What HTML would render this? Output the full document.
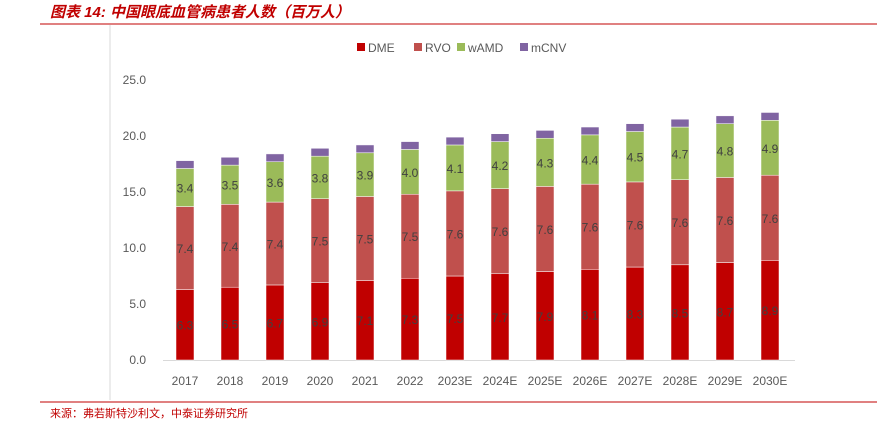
<!DOCTYPE html>
<html><head><meta charset="utf-8"><style>
body{margin:0;background:#fff;width:877px;height:425px;overflow:hidden;font-family:"Liberation Sans","Noto Sans CJK SC",sans-serif}
</style></head><body>
<svg width="877" height="425">
<text x="50" y="17" font-size="15" font-weight="bold" font-style="italic" fill="#c00000" font-family="Liberation Sans,Noto Sans CJK SC,sans-serif">图表 14:  中国眼底血管病患者人数（百万人）</text>
<line x1="40" y1="24" x2="877" y2="24" stroke="#c00000" stroke-width="1"/>
<line x1="110" y1="25" x2="110" y2="400" stroke="#d9d9d9"/>
<line x1="40" y1="402" x2="877" y2="402" stroke="#c00000"/>
<text x="50" y="417" font-size="11" fill="#c00000">来源：弗若斯特沙利文，中泰证券研究所</text>
<g id="legend"></g>
<g id="axes"></g>
<g id="bars"></g>
</svg>
<script>
const categories=["2017","2018","2019","2020","2021","2022","2023E","2024E","2025E","2026E","2027E","2028E","2029E","2030E"];
const dme=[6.3,6.5,6.7,6.9,7.1,7.3,7.5,7.7,7.9,8.1,8.3,8.5,8.7,8.9];
const rvo=[7.4,7.4,7.4,7.5,7.5,7.5,7.6,7.6,7.6,7.6,7.6,7.6,7.6,7.6];
const wamd=[3.4,3.5,3.6,3.8,3.9,4.0,4.1,4.2,4.3,4.4,4.5,4.7,4.8,4.9];
const mcnv=[0.7,0.7,0.7,0.7,0.7,0.7,0.7,0.7,0.7,0.7,0.7,0.7,0.7,0.7];
const yTicks=[0,5,10,15,20,25];
const seriesNames=["DME","RVO","wAMD","mCNV"];
const NS="http://www.w3.org/2000/svg";
const colors=["#c00000","#c0504d","#9bbb59","#8064a2"];
const y=v=>360-v*11.2;
const x=i=>185+i*45;
function mk(tag,attrs,parent){const e=document.createElementNS(NS,tag);for(const k in attrs)e.setAttribute(k,attrs[k]);parent.appendChild(e);return e;}
const axes=document.getElementById('axes'),bars=document.getElementById('bars'),leg=document.getElementById('legend');
yTicks.forEach(t=>{const tx=mk('text',{x:146,y:y(t)+4,'font-size':12,fill:'#595959','text-anchor':'end'},axes);tx.textContent=t.toFixed(1);

});
const base=mk('line',{x1:163,x2:795,y1:360.5,y2:360.5,stroke:'#d9d9d9'},axes);


const series=[dme,rvo,wamd,mcnv];
categories.forEach((c,i)=>{
 const lt=mk('text',{x:x(i),y:385,'font-size':12,fill:'#595959','text-anchor':'middle'},axes);lt.textContent=c;
 
 
 let cum=0;
 series.forEach((s,k)=>{
  const v=s[i];const r=mk('rect',{x:x(i)-9,y:y(cum+v),width:18,height:v*11.2,fill:colors[k],stroke:'#fff','stroke-width':0.5},bars);
  
  
  if(k<3){const t=mk('text',{x:x(i),y:y(cum+v/2)+5,'font-size':12,fill:'#404040','text-anchor':'middle'},bars);t.textContent=v.toFixed(1);
  
  }
  cum+=v;
 });
});
const lx=[357,414,457,520];
seriesNames.forEach((n,k)=>{
 const r=mk('rect',{x:lx[k],y:43,width:8,height:8,fill:colors[k]},leg);
 
 
 const t=mk('text',{x:lx[k]+11,y:52,'font-size':12,fill:'#595959'},leg);t.textContent=n;
 
 
});
</script>
</body></html>
